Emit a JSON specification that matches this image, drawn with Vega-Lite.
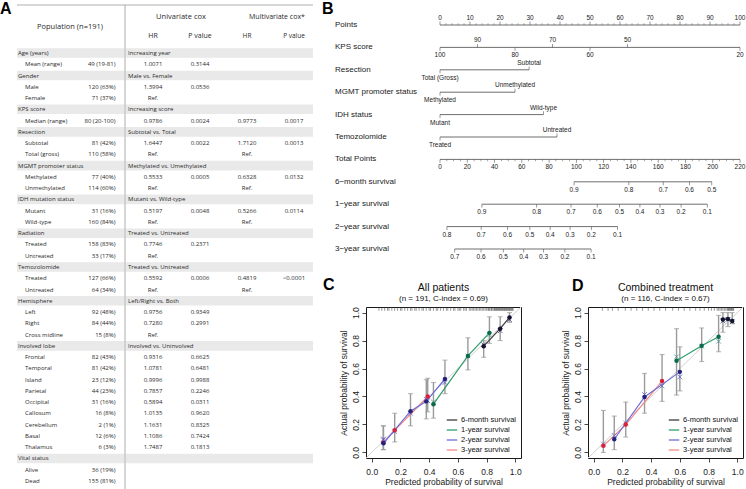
{
"$schema": "https://vega.github.io/schema/vega-lite/v6.json",
"padding": 0,
"background": "#ffffff",
"config": {
 "view": {"stroke": null},
 "font": "Liberation Sans",
 "axisX": {"domain": false, "grid": false, "tickSize": 4, "tickColor": "#1a1a1a", "tickWidth": 0.8, "labelFontSize": 8.5, "labelColor": "#1a1a1a", "labelPadding": 5, "labelFlush": false, "titleFontSize": 8.5, "titleFontWeight": "normal", "titleColor": "#1a1a1a", "titlePadding": 2},
 "axisY": {"domain": false, "grid": false, "tickSize": 4, "tickColor": "#1a1a1a", "tickWidth": 0.8, "labelFontSize": 8.5, "labelColor": "#1a1a1a", "labelAngle": 270, "labelAlign": "center", "labelBaseline": "bottom", "labelPadding": 2, "labelFlush": false, "titleFontSize": 8.5, "titleFontWeight": "normal", "titleColor": "#1a1a1a", "titlePadding": 3}
},
"datasets": {
 "table": [
  {"r":1,"label":"Age (years)","grp":true,"cmp":"Increasing year"},
  {"r":2,"label":"Mean (range)","n":"49 (19-81)","uhr":"1.0071","up":"0.3144"},
  {"r":3,"label":"Gender","grp":true,"cmp":"Male vs. Female"},
  {"r":4,"label":"Male","n":"120 (63%)","uhr":"1.3994","up":"0.0536"},
  {"r":5,"label":"Female","n":"71 (37%)","uhr":"Ref."},
  {"r":6,"label":"KPS score","grp":true,"cmp":"Increasing score"},
  {"r":7,"label":"Median (range)","n":"80 (20-100)","uhr":"0.9786","up":"0.0024","mhr":"0.9773","mp":"0.0017"},
  {"r":8,"label":"Resection","grp":true,"cmp":"Subtotal vs. Total"},
  {"r":9,"label":"Subtotal","n":"81 (42%)","uhr":"1.6447","up":"0.0022","mhr":"1.7120","mp":"0.0013"},
  {"r":10,"label":"Total (gross)","n":"110 (58%)","uhr":"Ref.","mhr":"Ref."},
  {"r":11,"label":"MGMT promoter status","grp":true,"cmp":"Methylated vs. Umethylated"},
  {"r":12,"label":"Methylated","n":"77 (40%)","uhr":"0.5533","up":"0.0005","mhr":"0.6328","mp":"0.0132"},
  {"r":13,"label":"Unmethylated","n":"114 (60%)","uhr":"Ref.","mhr":"Ref."},
  {"r":14,"label":"IDH mutation status","grp":true,"cmp":"Mutant vs. Wild-type"},
  {"r":15,"label":"Mutant","n":"31 (16%)","uhr":"0.5197","up":"0.0048","mhr":"0.5266","mp":"0.0114"},
  {"r":16,"label":"Wild-type","n":"160 (84%)","uhr":"Ref.","mhr":"Ref."},
  {"r":17,"label":"Radiation","grp":true,"cmp":"Treated vs. Untreated"},
  {"r":18,"label":"Treated","n":"158 (83%)","uhr":"0.7746","up":"0.2371"},
  {"r":19,"label":"Untreated","n":"33 (17%)","uhr":"Ref."},
  {"r":20,"label":"Temozolomide","grp":true,"cmp":"Treated vs. Untreated"},
  {"r":21,"label":"Treated","n":"127 (66%)","uhr":"0.5592","up":"0.0006","mhr":"0.4819","mp":"<0.0001"},
  {"r":22,"label":"Untreated","n":"64 (34%)","uhr":"Ref.","mhr":"Ref."},
  {"r":23,"label":"Hemisphere","grp":true,"cmp":"Left/Right vs. Both"},
  {"r":24,"label":"Left","n":"92 (48%)","uhr":"0.9756","up":"0.9349"},
  {"r":25,"label":"Right","n":"84 (44%)","uhr":"0.7280","up":"0.2991"},
  {"r":26,"label":"Cross midline","n":"15 (8%)","uhr":"Ref."},
  {"r":27,"label":"Involved lobe","grp":true,"cmp":"Involved vs. Uninvolved"},
  {"r":28,"label":"Frontal","n":"82 (43%)","uhr":"0.9316","up":"0.6625"},
  {"r":29,"label":"Temporal","n":"81 (42%)","uhr":"1.0781","up":"0.6481"},
  {"r":30,"label":"Island","n":"23 (12%)","uhr":"0.9996","up":"0.9988"},
  {"r":31,"label":"Parietal","n":"44 (23%)","uhr":"0.7857","up":"0.2246"},
  {"r":32,"label":"Occipital","n":"31 (16%)","uhr":"0.5894","up":"0.0311"},
  {"r":33,"label":"Callosum","n":"16 (8%)","uhr":"1.0135","up":"0.9620"},
  {"r":34,"label":"Cerebellum","n":"2 (1%)","uhr":"1.1631","up":"0.8325"},
  {"r":35,"label":"Basal","n":"12 (6%)","uhr":"1.1086","up":"0.7424"},
  {"r":36,"label":"Thalamus","n":"6 (3%)","uhr":"1.7487","up":"0.1813"},
  {"r":37,"label":"Vital status","grp":true},
  {"r":38,"label":"Alive","n":"36 (19%)"},
  {"r":39,"label":"Dead","n":"155 (81%)"}
 ],
 "nomo": [
  {"row":"Points","lab":"0","pts":0,"side":"t"},{"row":"Points","lab":"10","pts":10,"side":"t"},{"row":"Points","lab":"20","pts":20,"side":"t"},{"row":"Points","lab":"30","pts":30,"side":"t"},{"row":"Points","lab":"40","pts":40,"side":"t"},{"row":"Points","lab":"50","pts":50,"side":"t"},{"row":"Points","lab":"60","pts":60,"side":"t"},{"row":"Points","lab":"70","pts":70,"side":"t"},{"row":"Points","lab":"80","pts":80,"side":"t"},{"row":"Points","lab":"90","pts":90,"side":"t"},{"row":"Points","lab":"100","pts":100,"side":"t"},
  {"row":"Points","pts":2,"side":"t","minor":true},{"row":"Points","pts":4,"side":"t","minor":true},{"row":"Points","pts":6,"side":"t","minor":true},{"row":"Points","pts":8,"side":"t","minor":true},
  {"row":"Points","pts":12,"side":"t","minor":true},{"row":"Points","pts":14,"side":"t","minor":true},{"row":"Points","pts":16,"side":"t","minor":true},{"row":"Points","pts":18,"side":"t","minor":true},
  {"row":"Points","pts":22,"side":"t","minor":true},{"row":"Points","pts":24,"side":"t","minor":true},{"row":"Points","pts":26,"side":"t","minor":true},{"row":"Points","pts":28,"side":"t","minor":true},
  {"row":"Points","pts":32,"side":"t","minor":true},{"row":"Points","pts":34,"side":"t","minor":true},{"row":"Points","pts":36,"side":"t","minor":true},{"row":"Points","pts":38,"side":"t","minor":true},
  {"row":"Points","pts":42,"side":"t","minor":true},{"row":"Points","pts":44,"side":"t","minor":true},{"row":"Points","pts":46,"side":"t","minor":true},{"row":"Points","pts":48,"side":"t","minor":true},
  {"row":"Points","pts":52,"side":"t","minor":true},{"row":"Points","pts":54,"side":"t","minor":true},{"row":"Points","pts":56,"side":"t","minor":true},{"row":"Points","pts":58,"side":"t","minor":true},
  {"row":"Points","pts":62,"side":"t","minor":true},{"row":"Points","pts":64,"side":"t","minor":true},{"row":"Points","pts":66,"side":"t","minor":true},{"row":"Points","pts":68,"side":"t","minor":true},
  {"row":"Points","pts":72,"side":"t","minor":true},{"row":"Points","pts":74,"side":"t","minor":true},{"row":"Points","pts":76,"side":"t","minor":true},{"row":"Points","pts":78,"side":"t","minor":true},
  {"row":"Points","pts":82,"side":"t","minor":true},{"row":"Points","pts":84,"side":"t","minor":true},{"row":"Points","pts":86,"side":"t","minor":true},{"row":"Points","pts":88,"side":"t","minor":true},
  {"row":"Points","pts":92,"side":"t","minor":true},{"row":"Points","pts":94,"side":"t","minor":true},{"row":"Points","pts":96,"side":"t","minor":true},{"row":"Points","pts":98,"side":"t","minor":true},
  {"row":"KPS score","lab":"100","pts":0,"side":"b"},{"row":"KPS score","lab":"90","pts":12.5,"side":"t"},{"row":"KPS score","lab":"80","pts":25,"side":"b"},{"row":"KPS score","lab":"70","pts":37.5,"side":"t"},{"row":"KPS score","lab":"60","pts":50,"side":"b"},{"row":"KPS score","lab":"50","pts":62.5,"side":"t"},{"row":"KPS score","lab":"20","pts":100,"side":"b"},
  {"row":"Resection","lab":"Total (Gross)","pts":0,"side":"b"},{"row":"Resection","lab":"Subtotal","pts":29.7,"side":"t"},
  {"row":"MGMT promoter status","lab":"Methylated","pts":0,"side":"b"},{"row":"MGMT promoter status","lab":"Unmethylated","pts":25,"side":"t"},
  {"row":"IDH status","lab":"Mutant","pts":0,"side":"b"},{"row":"IDH status","lab":"Wild-type","pts":34.5,"side":"t"},
  {"row":"Temozolomide","lab":"Treated","pts":0,"side":"b"},{"row":"Temozolomide","lab":"Untreated","pts":39,"side":"t"},
  {"row":"Total Points","lab":"0","tp":0,"side":"b"},{"row":"Total Points","lab":"20","tp":20,"side":"b"},{"row":"Total Points","lab":"40","tp":40,"side":"b"},{"row":"Total Points","lab":"60","tp":60,"side":"b"},{"row":"Total Points","lab":"80","tp":80,"side":"b"},{"row":"Total Points","lab":"100","tp":100,"side":"b"},{"row":"Total Points","lab":"120","tp":120,"side":"b"},{"row":"Total Points","lab":"140","tp":140,"side":"b"},{"row":"Total Points","lab":"160","tp":160,"side":"b"},{"row":"Total Points","lab":"180","tp":180,"side":"b"},{"row":"Total Points","lab":"200","tp":200,"side":"b"},{"row":"Total Points","lab":"220","tp":220,"side":"b"},
  {"row":"Total Points","tp":5,"side":"b","minor":true},{"row":"Total Points","tp":10,"side":"b","minor":true},{"row":"Total Points","tp":15,"side":"b","minor":true},
  {"row":"Total Points","tp":25,"side":"b","minor":true},{"row":"Total Points","tp":30,"side":"b","minor":true},{"row":"Total Points","tp":35,"side":"b","minor":true},
  {"row":"Total Points","tp":45,"side":"b","minor":true},{"row":"Total Points","tp":50,"side":"b","minor":true},{"row":"Total Points","tp":55,"side":"b","minor":true},
  {"row":"Total Points","tp":65,"side":"b","minor":true},{"row":"Total Points","tp":70,"side":"b","minor":true},{"row":"Total Points","tp":75,"side":"b","minor":true},
  {"row":"Total Points","tp":85,"side":"b","minor":true},{"row":"Total Points","tp":90,"side":"b","minor":true},{"row":"Total Points","tp":95,"side":"b","minor":true},
  {"row":"Total Points","tp":105,"side":"b","minor":true},{"row":"Total Points","tp":110,"side":"b","minor":true},{"row":"Total Points","tp":115,"side":"b","minor":true},
  {"row":"Total Points","tp":125,"side":"b","minor":true},{"row":"Total Points","tp":130,"side":"b","minor":true},{"row":"Total Points","tp":135,"side":"b","minor":true},
  {"row":"Total Points","tp":145,"side":"b","minor":true},{"row":"Total Points","tp":150,"side":"b","minor":true},{"row":"Total Points","tp":155,"side":"b","minor":true},
  {"row":"Total Points","tp":165,"side":"b","minor":true},{"row":"Total Points","tp":170,"side":"b","minor":true},{"row":"Total Points","tp":175,"side":"b","minor":true},
  {"row":"Total Points","tp":185,"side":"b","minor":true},{"row":"Total Points","tp":190,"side":"b","minor":true},{"row":"Total Points","tp":195,"side":"b","minor":true},
  {"row":"Total Points","tp":205,"side":"b","minor":true},{"row":"Total Points","tp":210,"side":"b","minor":true},{"row":"Total Points","tp":215,"side":"b","minor":true},
  {"row":"6−month survival","lab":"0.9","tp":98.3,"side":"b"},{"row":"6−month survival","lab":"0.8","tp":138.5,"side":"b"},{"row":"6−month survival","lab":"0.7","tp":163.7,"side":"b"},{"row":"6−month survival","lab":"0.6","tp":182.9,"side":"b"},{"row":"6−month survival","lab":"0.5","tp":199.3,"side":"b"},
  {"row":"1−year survival","lab":"0.9","tp":30.7,"side":"b"},{"row":"1−year survival","lab":"0.8","tp":70.9,"side":"b"},{"row":"1−year survival","lab":"0.7","tp":96.1,"side":"b"},{"row":"1−year survival","lab":"0.6","tp":115.3,"side":"b"},{"row":"1−year survival","lab":"0.5","tp":131.7,"side":"b"},{"row":"1−year survival","lab":"0.4","tp":146.6,"side":"b"},{"row":"1−year survival","lab":"0.3","tp":161.3,"side":"b"},{"row":"1−year survival","lab":"0.2","tp":176.8,"side":"b"},{"row":"1−year survival","lab":"0.1","tp":196.0,"side":"b"},
  {"row":"2−year survival","lab":"0.8","tp":5.1,"side":"b"},{"row":"2−year survival","lab":"0.7","tp":30.2,"side":"b"},{"row":"2−year survival","lab":"0.6","tp":49.5,"side":"b"},{"row":"2−year survival","lab":"0.5","tp":65.9,"side":"b"},{"row":"2−year survival","lab":"0.4","tp":80.8,"side":"b"},{"row":"2−year survival","lab":"0.3","tp":95.4,"side":"b"},{"row":"2−year survival","lab":"0.2","tp":111.0,"side":"b"},{"row":"2−year survival","lab":"0.1","tp":130.2,"side":"b"},
  {"row":"3−year survival","lab":"0.7","tp":10.8,"side":"b"},{"row":"3−year survival","lab":"0.6","tp":30.1,"side":"b"},{"row":"3−year survival","lab":"0.5","tp":46.4,"side":"b"},{"row":"3−year survival","lab":"0.4","tp":61.4,"side":"b"},{"row":"3−year survival","lab":"0.3","tp":76.0,"side":"b"},{"row":"3−year survival","lab":"0.2","tp":91.6,"side":"b"},{"row":"3−year survival","lab":"0.1","tp":110.8,"side":"b"}
 ],
 "rows": [{"row":"Points"},{"row":"KPS score"},{"row":"Resection"},{"row":"MGMT promoter status"},{"row":"IDH status"},{"row":"Temozolomide"},{"row":"Total Points"},{"row":"6−month survival"},{"row":"1−year survival"},{"row":"2−year survival"},{"row":"3−year survival"}],
 "diag": [{"p":-0.04,"a":-0.04},{"p":1.04,"a":1.04}],
 "calC": [
  {"series":"3-year survival","p":0.08,"a":0.07,"lo":0.02,"hi":0.19,"bc":0.09},
  {"series":"3-year survival","p":0.16,"a":0.158,"lo":0.075,"hi":0.28,"bc":0.15},
  {"series":"3-year survival","p":0.39,"a":0.40,"lo":0.29,"hi":0.53,"bc":0.37},
  {"series":"2-year survival","p":0.082,"a":0.065,"lo":0.02,"hi":0.19,"bc":0.095},
  {"series":"2-year survival","p":0.27,"a":0.295,"lo":0.19,"hi":0.42,"bc":0.28},
  {"series":"2-year survival","p":0.38,"a":0.365,"lo":0.24,"hi":0.52,"bc":0.38},
  {"series":"2-year survival","p":0.51,"a":0.525,"lo":0.42,"hi":0.66,"bc":0.5},
  {"series":"1-year survival","p":0.43,"a":0.345,"lo":0.245,"hi":0.50,"bc":0.36},
  {"series":"1-year survival","p":0.67,"a":0.69,"lo":0.59,"hi":0.82,"bc":0.69},
  {"series":"1-year survival","p":0.82,"a":0.855,"lo":0.78,"hi":0.97,"bc":0.84},
  {"series":"6-month survival","p":0.78,"a":0.76,"lo":0.68,"hi":0.80,"bc":0.77},
  {"series":"6-month survival","p":0.895,"a":0.885,"lo":0.80,"hi":0.97,"bc":0.87},
  {"series":"6-month survival","p":0.96,"a":0.965,"lo":0.93,"hi":1.0,"bc":0.95}
 ],
 "calD": [
  {"series":"3-year survival","p":0.067,"a":0.047,"lo":0.0,"hi":0.30,"bc":0.06},
  {"series":"3-year survival","p":0.223,"a":0.199,"lo":0.11,"hi":0.36,"bc":0.21},
  {"series":"3-year survival","p":0.476,"a":0.51,"lo":0.365,"hi":0.70,"bc":0.475},
  {"series":"2-year survival","p":0.143,"a":0.094,"lo":0.02,"hi":0.26,"bc":0.12},
  {"series":"2-year survival","p":0.354,"a":0.397,"lo":0.28,"hi":0.565,"bc":0.414},
  {"series":"2-year survival","p":0.6,"a":0.576,"lo":0.44,"hi":0.755,"bc":0.54},
  {"series":"1-year survival","p":0.577,"a":0.655,"lo":0.41,"hi":0.885,"bc":0.684},
  {"series":"1-year survival","p":0.752,"a":0.763,"lo":0.65,"hi":0.89,"bc":0.76},
  {"series":"1-year survival","p":0.87,"a":0.827,"lo":0.72,"hi":0.98,"bc":0.795},
  {"series":"6-month survival","p":0.9,"a":0.95,"lo":0.86,"hi":1.0,"bc":0.94},
  {"series":"6-month survival","p":0.935,"a":0.955,"lo":0.9,"hi":1.0,"bc":0.95},
  {"series":"6-month survival","p":0.965,"a":0.94,"lo":0.92,"hi":1.0,"bc":0.935}
 ],
 "rugC": [{"p":0.05},{"p":0.07},{"p":0.09},{"p":0.11},{"p":0.12},{"p":0.14},{"p":0.16},{"p":0.18},{"p":0.2},{"p":0.21},{"p":0.23},{"p":0.25},{"p":0.27},{"p":0.28},{"p":0.3},{"p":0.31},{"p":0.33},{"p":0.35},{"p":0.36},{"p":0.38},{"p":0.4},{"p":0.41},{"p":0.43},{"p":0.45},{"p":0.46},{"p":0.48},{"p":0.5},{"p":0.52},{"p":0.53},{"p":0.55},{"p":0.57},{"p":0.58},{"p":0.6},{"p":0.61},{"p":0.62},{"p":0.64},{"p":0.65},{"p":0.66},{"p":0.68},{"p":0.69},{"p":0.7},{"p":0.71},{"p":0.72},{"p":0.73},{"p":0.74},{"p":0.75},{"p":0.76},{"p":0.77},{"p":0.78},{"p":0.79},{"p":0.8},{"p":0.81},{"p":0.815},{"p":0.82},{"p":0.83},{"p":0.835},{"p":0.84},{"p":0.85},{"p":0.855},{"p":0.86},{"p":0.865},{"p":0.87},{"p":0.875},{"p":0.88},{"p":0.885},{"p":0.89},{"p":0.895},{"p":0.9},{"p":0.905},{"p":0.91},{"p":0.915},{"p":0.92},{"p":0.925},{"p":0.93},{"p":0.935},{"p":0.94},{"p":0.945},{"p":0.95},{"p":0.955},{"p":0.96},{"p":0.965},{"p":0.97},{"p":0.975},{"p":0.98},{"p":0.985}],
 "rugD": [{"p":0.06},{"p":0.1},{"p":0.13},{"p":0.17},{"p":0.22},{"p":0.26},{"p":0.3},{"p":0.34},{"p":0.38},{"p":0.42},{"p":0.46},{"p":0.5},{"p":0.55},{"p":0.59},{"p":0.63},{"p":0.67},{"p":0.71},{"p":0.74},{"p":0.77},{"p":0.8},{"p":0.82},{"p":0.84},{"p":0.86},{"p":0.87},{"p":0.88},{"p":0.89},{"p":0.9},{"p":0.91},{"p":0.92},{"p":0.93},{"p":0.935},{"p":0.94},{"p":0.945},{"p":0.95},{"p":0.955},{"p":0.96},{"p":0.965},{"p":0.97},{"p":0.975}]
},
"concat": [
 {
  "width": 296, "height": 489,
  "data": {"name": "table"},
  "layer": [
   {"transform": [{"filter": "datum.grp"}], "mark": {"type": "rule", "color": "#e9e9e9", "strokeWidth": 9.6},
    "encoding": {"y": {"field": "r", "type": "ordinal", "scale": {"type": "band", "domain": [1,2,3,4,5,6,7,8,9,10,11,12,13,14,15,16,17,18,19,20,21,22,23,24,25,26,27,28,29,30,31,32,33,34,35,36,37,38,39], "range": [48.21, 485.78], "paddingInner": 0.15, "paddingOuter": 0, "round": false}, "axis": null}}},
   {"data": {"values": [{}]}, "mark": {"type": "rule", "color": "#c9c9c9", "strokeWidth": 1.5, "xOffset": 19, "yOffset": -48, "y2Offset": 8},
    "encoding": {"x": {"datum": "n", "type": "nominal", "scale": {"type": "point", "domain": ["n","uhr","up","mhr","mp"], "range": [89, 277], "padding": 0}, "axis": null},
     "y": {"datum": 1, "type": "ordinal", "axis": null}, "y2": {"datum": 39}}},
   {"data": {"values": [{}]}, "mark": {"type": "rule", "color": "#9a9a9a", "strokeWidth": 0.8, "yOffset": -48},
    "encoding": {"y": {"datum": 1, "type": "ordinal", "axis": null}}},
   {"transform": [{"filter": "datum.grp"}], "mark": {"type": "text", "align": "left", "dx": -88, "fontSize": 6, "font": "Open Sans", "color": "#2a2a2a"},
    "encoding": {"x": {"datum": "n", "type": "nominal", "axis": null}, "y": {"field": "r", "type": "ordinal", "axis": null}, "text": {"field": "label"}}},
   {"transform": [{"filter": "!datum.grp"}], "mark": {"type": "text", "align": "left", "dx": -81, "fontSize": 6, "font": "Open Sans", "color": "#2a2a2a"},
    "encoding": {"x": {"datum": "n", "type": "nominal", "axis": null}, "y": {"field": "r", "type": "ordinal", "axis": null}, "text": {"field": "label"}}},
   {"transform": [{"filter": "isValid(datum.n)"}], "mark": {"type": "text", "align": "right", "dx": 9.5, "fontSize": 6, "font": "Open Sans", "color": "#2a2a2a"},
    "encoding": {"x": {"datum": "n", "type": "nominal", "axis": null}, "y": {"field": "r", "type": "ordinal", "axis": null}, "text": {"field": "n"}}},
   {"transform": [{"filter": "isValid(datum.cmp)"}], "mark": {"type": "text", "align": "left", "dx": -25, "fontSize": 6, "font": "Open Sans", "color": "#2a2a2a"},
    "encoding": {"x": {"datum": "uhr", "type": "nominal", "axis": null}, "y": {"field": "r", "type": "ordinal", "axis": null}, "text": {"field": "cmp"}}},
   {"transform": [{"filter": "isValid(datum.uhr)"}], "mark": {"type": "text", "align": "center", "fontSize": 6, "font": "Open Sans", "color": "#2a2a2a"},
    "encoding": {"x": {"datum": "uhr", "type": "nominal", "axis": null}, "y": {"field": "r", "type": "ordinal", "axis": null}, "text": {"field": "uhr"}}},
   {"transform": [{"filter": "isValid(datum.up)"}], "mark": {"type": "text", "align": "center", "fontSize": 6, "font": "Open Sans", "color": "#2a2a2a"},
    "encoding": {"x": {"datum": "up", "type": "nominal", "axis": null}, "y": {"field": "r", "type": "ordinal", "axis": null}, "text": {"field": "up"}}},
   {"transform": [{"filter": "isValid(datum.mhr)"}], "mark": {"type": "text", "align": "center", "fontSize": 6, "font": "Open Sans", "color": "#2a2a2a"},
    "encoding": {"x": {"datum": "mhr", "type": "nominal", "axis": null}, "y": {"field": "r", "type": "ordinal", "axis": null}, "text": {"field": "mhr"}}},
   {"transform": [{"filter": "isValid(datum.mp)"}], "mark": {"type": "text", "align": "center", "fontSize": 6, "font": "Open Sans", "color": "#2a2a2a"},
    "encoding": {"x": {"datum": "mp", "type": "nominal", "axis": null}, "y": {"field": "r", "type": "ordinal", "axis": null}, "text": {"field": "mp"}}},
   {"data": {"values": [{}]}, "mark": {"type": "text", "text": "Population (n=191)", "align": "center", "dx": -36, "dy": -26, "fontSize": 7.5, "font": "Open Sans", "color": "#2a2a2a"},
    "encoding": {"x": {"datum": "n", "type": "nominal", "axis": null}, "y": {"datum": 1, "type": "ordinal", "axis": null}}},
   {"data": {"values": [{}]}, "mark": {"type": "text", "text": "Univariate cox", "align": "center", "dx": 28, "dy": -36, "fontSize": 7.5, "font": "Open Sans", "color": "#2a2a2a"},
    "encoding": {"x": {"datum": "uhr", "type": "nominal", "axis": null}, "y": {"datum": 1, "type": "ordinal", "axis": null}}},
   {"data": {"values": [{}]}, "mark": {"type": "text", "text": "Multivariate cox*", "align": "center", "dx": 30, "dy": -36, "fontSize": 7, "font": "Open Sans", "color": "#2a2a2a"},
    "encoding": {"x": {"datum": "mhr", "type": "nominal", "axis": null}, "y": {"datum": 1, "type": "ordinal", "axis": null}}},
   {"data": {"values": [{}]}, "mark": {"type": "text", "text": "HR", "align": "center", "dy": -17, "fontSize": 7, "font": "Open Sans", "color": "#2a2a2a"},
    "encoding": {"x": {"datum": "uhr", "type": "nominal", "axis": null}, "y": {"datum": 1, "type": "ordinal", "axis": null}}},
   {"data": {"values": [{}]}, "mark": {"type": "text", "text": "P value", "align": "center", "dy": -17, "fontSize": 7, "font": "Open Sans", "color": "#2a2a2a"},
    "encoding": {"x": {"datum": "up", "type": "nominal", "axis": null}, "y": {"datum": 1, "type": "ordinal", "axis": null}}},
   {"data": {"values": [{}]}, "mark": {"type": "text", "text": "HR", "align": "center", "dy": -17, "fontSize": 6.5, "font": "Open Sans", "color": "#2a2a2a"},
    "encoding": {"x": {"datum": "mhr", "type": "nominal", "axis": null}, "y": {"datum": 1, "type": "ordinal", "axis": null}}},
   {"data": {"values": [{}]}, "mark": {"type": "text", "text": "P value", "align": "center", "dy": -17, "fontSize": 6.5, "font": "Open Sans", "color": "#2a2a2a"},
    "encoding": {"x": {"datum": "mp", "type": "nominal", "axis": null}, "y": {"datum": 1, "type": "ordinal", "axis": null}}},
   {"data": {"values": [{}]}, "mark": {"type": "text", "text": "A", "align": "left", "dx": -106, "dy": -44, "fontSize": 16, "fontWeight": "bold", "font": "Liberation Sans", "color": "#000000"},
    "encoding": {"x": {"datum": "n", "type": "nominal", "axis": null}, "y": {"datum": 1, "type": "ordinal", "axis": null}}}
  ]
 },
 {
  "concat": [
   {
    "width": 374, "height": 274,
    "data": {"name": "nomo"},
    "resolve": {"scale": {"x": "independent"}},
    "layer": [
     {"data": {"name": "rows"}, "mark": {"type": "text", "align": "left", "dx": -31, "fontSize": 8, "color": "#1a1a1a"},
      "encoding": {"x": {"datum": -24.67, "type": "quantitative", "scale": {"domain": [-24.67, 100], "nice": false, "zero": false}, "axis": null},
       "y": {"field": "row", "type": "nominal", "scale": {"type": "point", "domain": ["Points","KPS score","Resection","MGMT promoter status","IDH status","Temozolomide","Total Points","6−month survival","1−year survival","2−year survival","3−year survival"], "range": [25, 249], "padding": 0}, "axis": null},
       "text": {"field": "row"}}},
     {"data": {"values": [{}]}, "mark": {"type": "text", "text": "B", "align": "left", "dx": -44, "dy": -16, "fontSize": 16, "fontWeight": "bold", "color": "#000000"},
      "encoding": {"x": {"datum": -24.67, "type": "quantitative", "scale": {"domain": [-24.67, 100], "nice": false, "zero": false}, "axis": null},
       "y": {"datum": "Points", "type": "nominal", "axis": null}}},
     {"transform": [{"filter": "isValid(datum.pts)"}], "mark": {"type": "rule", "color": "#4a4a4a", "strokeWidth": 0.8},
      "encoding": {"x": {"aggregate": "min", "field": "pts", "type": "quantitative", "scale": {"domain": [-24.67, 100], "nice": false, "zero": false}, "axis": null},
       "x2": {"aggregate": "max", "field": "pts"}, "y": {"field": "row", "type": "nominal", "axis": null}}},
     {"transform": [{"filter": "isValid(datum.pts) && datum.side == 't' && !datum.minor"}], "mark": {"type": "tick", "color": "#4a4a4a", "size": 3.4, "thickness": 0.8, "yOffset": -1.7},
      "encoding": {"x": {"field": "pts", "type": "quantitative", "scale": {"domain": [-24.67, 100], "nice": false, "zero": false}, "axis": null}, "y": {"field": "row", "type": "nominal", "axis": null}}},
     {"transform": [{"filter": "isValid(datum.pts) && datum.minor"}], "mark": {"type": "tick", "color": "#4a4a4a", "size": 1.8, "thickness": 0.7, "yOffset": -0.9},
      "encoding": {"x": {"field": "pts", "type": "quantitative", "scale": {"domain": [-24.67, 100], "nice": false, "zero": false}, "axis": null}, "y": {"field": "row", "type": "nominal", "axis": null}}},
     {"transform": [{"filter": "isValid(datum.pts) && datum.side == 'b'"}], "mark": {"type": "tick", "color": "#4a4a4a", "size": 3.4, "thickness": 0.8, "yOffset": 1.7},
      "encoding": {"x": {"field": "pts", "type": "quantitative", "scale": {"domain": [-24.67, 100], "nice": false, "zero": false}, "axis": null}, "y": {"field": "row", "type": "nominal", "axis": null}}},
     {"transform": [{"filter": "isValid(datum.pts) && datum.side == 't' && isValid(datum.lab)"}], "mark": {"type": "text", "baseline": "alphabetic", "dy": -5, "fontSize": 6.5, "color": "#1a1a1a"},
      "encoding": {"x": {"field": "pts", "type": "quantitative", "scale": {"domain": [-24.67, 100], "nice": false, "zero": false}, "axis": null}, "y": {"field": "row", "type": "nominal", "axis": null}, "text": {"field": "lab"}}},
     {"transform": [{"filter": "isValid(datum.pts) && datum.side == 'b' && isValid(datum.lab)"}], "mark": {"type": "text", "baseline": "top", "dy": 5, "fontSize": 6.5, "color": "#1a1a1a"},
      "encoding": {"x": {"field": "pts", "type": "quantitative", "scale": {"domain": [-24.67, 100], "nice": false, "zero": false}, "axis": null}, "y": {"field": "row", "type": "nominal", "axis": null}, "text": {"field": "lab"}}},
     {"transform": [{"filter": "isValid(datum.tp)"}], "mark": {"type": "rule", "color": "#4a4a4a", "strokeWidth": 0.8},
      "encoding": {"x": {"aggregate": "min", "field": "tp", "type": "quantitative", "scale": {"domain": [-54.27, 220], "nice": false, "zero": false}, "axis": null},
       "x2": {"aggregate": "max", "field": "tp"}, "y": {"field": "row", "type": "nominal", "axis": null}}},
     {"transform": [{"filter": "isValid(datum.tp) && !datum.minor"}], "mark": {"type": "tick", "color": "#4a4a4a", "size": 3.4, "thickness": 0.8, "yOffset": 1.7},
      "encoding": {"x": {"field": "tp", "type": "quantitative", "scale": {"domain": [-54.27, 220], "nice": false, "zero": false}, "axis": null}, "y": {"field": "row", "type": "nominal", "axis": null}}},
     {"transform": [{"filter": "isValid(datum.tp) && datum.minor"}], "mark": {"type": "tick", "color": "#4a4a4a", "size": 1.8, "thickness": 0.7, "yOffset": 0.9},
      "encoding": {"x": {"field": "tp", "type": "quantitative", "scale": {"domain": [-54.27, 220], "nice": false, "zero": false}, "axis": null}, "y": {"field": "row", "type": "nominal", "axis": null}}},
     {"transform": [{"filter": "isValid(datum.tp) && isValid(datum.lab)"}], "mark": {"type": "text", "baseline": "top", "dy": 5, "fontSize": 6.5, "color": "#1a1a1a"},
      "encoding": {"x": {"field": "tp", "type": "quantitative", "scale": {"domain": [-54.27, 220], "nice": false, "zero": false}, "axis": null}, "y": {"field": "row", "type": "nominal", "axis": null}, "text": {"field": "lab"}}}
    ]
   },
   {
    "concat": [
     {
      "width": 155, "height": 151,
      "view": {"stroke": "#1a1a1a", "strokeWidth": 1},
      "layer": [
       {"data": {"name": "diag"}, "mark": {"type": "line", "color": "#d0d0d0", "strokeWidth": 1},
        "encoding": {"x": {"field": "p", "type": "quantitative", "scale": {"domain": [-0.04, 1.04], "nice": false, "zero": false}, "axis": {"values": [0,0.2,0.4,0.6,0.8,1], "format": ".1f", "title": "Predicted probability of survival"}},
         "y": {"field": "a", "type": "quantitative", "scale": {"domain": [-0.04, 1.04], "nice": false, "zero": false}, "axis": {"values": [0,0.2,0.4,0.6,0.8,1], "format": ".1f", "title": "Actual probability of survival"}}}},
       {"data": {"name": "rugC"}, "mark": {"type": "rule", "color": "#333333", "strokeWidth": 0.5},
        "encoding": {"x": {"field": "p", "type": "quantitative", "axis": {"values": [0,0.2,0.4,0.6,0.8,1], "format": ".1f", "title": "Predicted probability of survival"}},
         "y": {"datum": 1.04, "type": "quantitative", "axis": {"values": [0,0.2,0.4,0.6,0.8,1], "format": ".1f", "title": "Actual probability of survival"}}, "y2": {"datum": 1.013}}},
       {"data": {"name": "calC"}, "mark": {"type": "rule", "color": "#9a9a9a", "strokeWidth": 1.4},
        "encoding": {"x": {"field": "p", "type": "quantitative", "axis": {"values": [0,0.2,0.4,0.6,0.8,1], "format": ".1f", "title": "Predicted probability of survival"}},
         "y": {"field": "lo", "type": "quantitative", "axis": {"values": [0,0.2,0.4,0.6,0.8,1], "format": ".1f", "title": "Actual probability of survival"}}, "y2": {"field": "hi"}}},
       {"data": {"name": "calC"}, "mark": {"type": "tick", "orient": "horizontal", "color": "#9a9a9a", "size": 5, "thickness": 1.1},
        "encoding": {"x": {"field": "p", "type": "quantitative", "axis": {"values": [0,0.2,0.4,0.6,0.8,1], "format": ".1f", "title": "Predicted probability of survival"}},
         "y": {"field": "lo", "type": "quantitative", "axis": {"values": [0,0.2,0.4,0.6,0.8,1], "format": ".1f", "title": "Actual probability of survival"}}}},
       {"data": {"name": "calC"}, "mark": {"type": "tick", "orient": "horizontal", "color": "#9a9a9a", "size": 5, "thickness": 1.1},
        "encoding": {"x": {"field": "p", "type": "quantitative", "axis": {"values": [0,0.2,0.4,0.6,0.8,1], "format": ".1f", "title": "Predicted probability of survival"}},
         "y": {"field": "hi", "type": "quantitative", "axis": {"values": [0,0.2,0.4,0.6,0.8,1], "format": ".1f", "title": "Actual probability of survival"}}}},
       {"data": {"name": "calC"}, "mark": {"type": "line", "strokeWidth": 1.2},
        "encoding": {"x": {"field": "p", "type": "quantitative", "axis": {"values": [0,0.2,0.4,0.6,0.8,1], "format": ".1f", "title": "Predicted probability of survival"}},
         "y": {"field": "a", "type": "quantitative", "axis": {"values": [0,0.2,0.4,0.6,0.8,1], "format": ".1f", "title": "Actual probability of survival"}},
         "color": {"field": "series", "type": "nominal", "scale": {"domain": ["6-month survival","1-year survival","2-year survival","3-year survival"], "range": ["#3d3d3d","#2f9e6a","#6d6dd8","#f28a86"]},
          "legend": {"orient": "bottom-right", "offset": 4, "title": null, "symbolType": "stroke", "symbolStrokeWidth": 1.3, "symbolSize": 110, "labelFontSize": 7.5, "labelColor": "#111111", "rowPadding": -1, "padding": 0, "labelOffset": 3}}}},
       {"data": {"name": "calC"}, "mark": {"type": "point", "shape": "M-1,-1L1,1M-1,1L1,-1", "filled": false, "size": 22, "strokeWidth": 1},
        "encoding": {"x": {"field": "p", "type": "quantitative", "axis": {"values": [0,0.2,0.4,0.6,0.8,1], "format": ".1f", "title": "Predicted probability of survival"}},
         "y": {"field": "bc", "type": "quantitative", "axis": {"values": [0,0.2,0.4,0.6,0.8,1], "format": ".1f", "title": "Actual probability of survival"}},
         "stroke": {"field": "series", "type": "nominal", "scale": {"domain": ["6-month survival","1-year survival","2-year survival","3-year survival"], "range": ["#303070","#3a8a8a","#5050c8","#6060c8"]}, "legend": null}}},
       {"data": {"name": "calC"}, "mark": {"type": "circle", "size": 20, "opacity": 1},
        "encoding": {"x": {"field": "p", "type": "quantitative", "axis": {"values": [0,0.2,0.4,0.6,0.8,1], "format": ".1f", "title": "Predicted probability of survival"}},
         "y": {"field": "a", "type": "quantitative", "axis": {"values": [0,0.2,0.4,0.6,0.8,1], "format": ".1f", "title": "Actual probability of survival"}},
         "fill": {"field": "series", "type": "nominal", "scale": {"domain": ["6-month survival","1-year survival","2-year survival","3-year survival"], "range": ["#141432","#0b6a4a","#23237e","#d8203a"]}, "legend": null}}},
       {"data": {"values": [{}]}, "mark": {"type": "text", "text": "C", "align": "left", "dx": -43, "dy": -22, "fontSize": 16, "fontWeight": "bold", "color": "#000000"},
        "encoding": {"x": {"datum": -0.04, "type": "quantitative", "axis": {"values": [0,0.2,0.4,0.6,0.8,1], "format": ".1f", "title": "Predicted probability of survival"}},
         "y": {"datum": 1.04, "type": "quantitative", "axis": {"values": [0,0.2,0.4,0.6,0.8,1], "format": ".1f", "title": "Actual probability of survival"}}}},
       {"data": {"values": [{}]}, "mark": {"type": "text", "text": "All patients", "align": "center", "dy": -19, "fontSize": 10.5, "color": "#111111"},
        "encoding": {"x": {"datum": 0.5, "type": "quantitative", "axis": {"values": [0,0.2,0.4,0.6,0.8,1], "format": ".1f", "title": "Predicted probability of survival"}},
         "y": {"datum": 1.04, "type": "quantitative", "axis": {"values": [0,0.2,0.4,0.6,0.8,1], "format": ".1f", "title": "Actual probability of survival"}}}},
       {"data": {"values": [{}]}, "mark": {"type": "text", "text": "(n = 191, C-index = 0.69)", "align": "center", "dy": -8.5, "fontSize": 8, "color": "#111111"},
        "encoding": {"x": {"datum": 0.5, "type": "quantitative", "axis": {"values": [0,0.2,0.4,0.6,0.8,1], "format": ".1f", "title": "Predicted probability of survival"}},
         "y": {"datum": 1.04, "type": "quantitative", "axis": {"values": [0,0.2,0.4,0.6,0.8,1], "format": ".1f", "title": "Actual probability of survival"}}}}
      ]
     },
     {
      "width": 155, "height": 151,
      "view": {"stroke": "#1a1a1a", "strokeWidth": 1},
      "layer": [
       {"data": {"name": "diag"}, "mark": {"type": "line", "color": "#d0d0d0", "strokeWidth": 1},
        "encoding": {"x": {"field": "p", "type": "quantitative", "scale": {"domain": [-0.04, 1.04], "nice": false, "zero": false}, "axis": {"values": [0,0.2,0.4,0.6,0.8,1], "format": ".1f", "title": "Predicted probability of survival"}},
         "y": {"field": "a", "type": "quantitative", "scale": {"domain": [-0.04, 1.04], "nice": false, "zero": false}, "axis": {"values": [0,0.2,0.4,0.6,0.8,1], "format": ".1f", "title": "Actual probability of survival"}}}},
       {"data": {"name": "rugD"}, "mark": {"type": "rule", "color": "#333333", "strokeWidth": 0.5},
        "encoding": {"x": {"field": "p", "type": "quantitative", "axis": {"values": [0,0.2,0.4,0.6,0.8,1], "format": ".1f", "title": "Predicted probability of survival"}},
         "y": {"datum": 1.04, "type": "quantitative", "axis": {"values": [0,0.2,0.4,0.6,0.8,1], "format": ".1f", "title": "Actual probability of survival"}}, "y2": {"datum": 1.013}}},
       {"data": {"name": "calD"}, "mark": {"type": "rule", "color": "#9a9a9a", "strokeWidth": 1.4},
        "encoding": {"x": {"field": "p", "type": "quantitative", "axis": {"values": [0,0.2,0.4,0.6,0.8,1], "format": ".1f", "title": "Predicted probability of survival"}},
         "y": {"field": "lo", "type": "quantitative", "axis": {"values": [0,0.2,0.4,0.6,0.8,1], "format": ".1f", "title": "Actual probability of survival"}}, "y2": {"field": "hi"}}},
       {"data": {"name": "calD"}, "mark": {"type": "tick", "orient": "horizontal", "color": "#9a9a9a", "size": 5, "thickness": 1.1},
        "encoding": {"x": {"field": "p", "type": "quantitative", "axis": {"values": [0,0.2,0.4,0.6,0.8,1], "format": ".1f", "title": "Predicted probability of survival"}},
         "y": {"field": "lo", "type": "quantitative", "axis": {"values": [0,0.2,0.4,0.6,0.8,1], "format": ".1f", "title": "Actual probability of survival"}}}},
       {"data": {"name": "calD"}, "mark": {"type": "tick", "orient": "horizontal", "color": "#9a9a9a", "size": 5, "thickness": 1.1},
        "encoding": {"x": {"field": "p", "type": "quantitative", "axis": {"values": [0,0.2,0.4,0.6,0.8,1], "format": ".1f", "title": "Predicted probability of survival"}},
         "y": {"field": "hi", "type": "quantitative", "axis": {"values": [0,0.2,0.4,0.6,0.8,1], "format": ".1f", "title": "Actual probability of survival"}}}},
       {"data": {"name": "calD"}, "mark": {"type": "line", "strokeWidth": 1.2},
        "encoding": {"x": {"field": "p", "type": "quantitative", "axis": {"values": [0,0.2,0.4,0.6,0.8,1], "format": ".1f", "title": "Predicted probability of survival"}},
         "y": {"field": "a", "type": "quantitative", "axis": {"values": [0,0.2,0.4,0.6,0.8,1], "format": ".1f", "title": "Actual probability of survival"}},
         "color": {"field": "series", "type": "nominal", "scale": {"domain": ["6-month survival","1-year survival","2-year survival","3-year survival"], "range": ["#3d3d3d","#2f9e6a","#6d6dd8","#f28a86"]},
          "legend": {"orient": "bottom-right", "offset": 4, "title": null, "symbolType": "stroke", "symbolStrokeWidth": 1.3, "symbolSize": 110, "labelFontSize": 7.5, "labelColor": "#111111", "rowPadding": -1, "padding": 0, "labelOffset": 3}}}},
       {"data": {"name": "calD"}, "mark": {"type": "point", "shape": "M-1,-1L1,1M-1,1L1,-1", "filled": false, "size": 22, "strokeWidth": 1},
        "encoding": {"x": {"field": "p", "type": "quantitative", "axis": {"values": [0,0.2,0.4,0.6,0.8,1], "format": ".1f", "title": "Predicted probability of survival"}},
         "y": {"field": "bc", "type": "quantitative", "axis": {"values": [0,0.2,0.4,0.6,0.8,1], "format": ".1f", "title": "Actual probability of survival"}},
         "stroke": {"field": "series", "type": "nominal", "scale": {"domain": ["6-month survival","1-year survival","2-year survival","3-year survival"], "range": ["#303070","#3a8a8a","#5050c8","#6060c8"]}, "legend": null}}},
       {"data": {"name": "calD"}, "mark": {"type": "circle", "size": 20, "opacity": 1},
        "encoding": {"x": {"field": "p", "type": "quantitative", "axis": {"values": [0,0.2,0.4,0.6,0.8,1], "format": ".1f", "title": "Predicted probability of survival"}},
         "y": {"field": "a", "type": "quantitative", "axis": {"values": [0,0.2,0.4,0.6,0.8,1], "format": ".1f", "title": "Actual probability of survival"}},
         "fill": {"field": "series", "type": "nominal", "scale": {"domain": ["6-month survival","1-year survival","2-year survival","3-year survival"], "range": ["#141432","#0b6a4a","#23237e","#d8203a"]}, "legend": null}}},
       {"data": {"values": [{}]}, "mark": {"type": "text", "text": "D", "align": "left", "dx": -16, "dy": -21, "fontSize": 16, "fontWeight": "bold", "color": "#000000"},
        "encoding": {"x": {"datum": -0.04, "type": "quantitative", "axis": {"values": [0,0.2,0.4,0.6,0.8,1], "format": ".1f", "title": "Predicted probability of survival"}},
         "y": {"datum": 1.04, "type": "quantitative", "axis": {"values": [0,0.2,0.4,0.6,0.8,1], "format": ".1f", "title": "Actual probability of survival"}}}},
       {"data": {"values": [{}]}, "mark": {"type": "text", "text": "Combined treatment", "align": "center", "dy": -19, "fontSize": 10.5, "color": "#111111"},
        "encoding": {"x": {"datum": 0.5, "type": "quantitative", "axis": {"values": [0,0.2,0.4,0.6,0.8,1], "format": ".1f", "title": "Predicted probability of survival"}},
         "y": {"datum": 1.04, "type": "quantitative", "axis": {"values": [0,0.2,0.4,0.6,0.8,1], "format": ".1f", "title": "Actual probability of survival"}}}},
       {"data": {"values": [{}]}, "mark": {"type": "text", "text": "(n = 116, C-index = 0.67)", "align": "center", "dy": -8.5, "fontSize": 8, "color": "#111111"},
        "encoding": {"x": {"datum": 0.5, "type": "quantitative", "axis": {"values": [0,0.2,0.4,0.6,0.8,1], "format": ".1f", "title": "Predicted probability of survival"}},
         "y": {"datum": 1.04, "type": "quantitative", "axis": {"values": [0,0.2,0.4,0.6,0.8,1], "format": ".1f", "title": "Actual probability of survival"}}}}
      ]
     }
    ],
    "columns": 2, "align": "none", "spacing": 36,
    "resolve": {"scale": {"color": "independent", "fill": "independent", "stroke": "independent"}, "legend": {"color": "independent"}}
   }
  ],
  "columns": 1, "align": "none", "spacing": 2
 }
],
"columns": 2, "align": "none", "spacing": 4
}
